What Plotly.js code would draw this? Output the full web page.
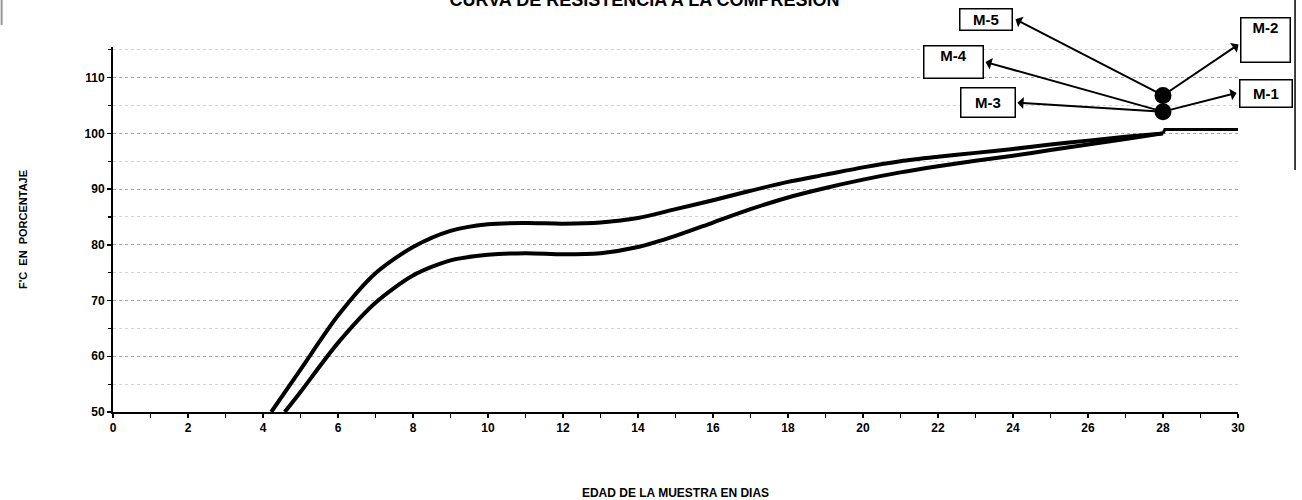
<!DOCTYPE html>
<html>
<head>
<meta charset="utf-8">
<script src="https://cdn.plot.ly/plotly-3.0.1.min.js"></script>
<style>html,body{margin:0;padding:0;background:#fff;}#chart{width:1302px;height:500px;}</style>
</head>
<body>
<div id="chart"></div>
<script>
// ---- data ----
const diasCurvaSup = [4.22, 5, 6, 7, 8, 9, 10, 11, 12, 13, 14, 15, 16, 17, 18, 19, 20, 21, 22, 23, 24, 25, 26, 27, 28];
const fcCurvaSup   = [50, 57.6, 67.3, 74.9, 79.6, 82.5, 83.7, 83.9, 83.8, 84.0, 84.8, 86.4, 88.0, 89.7, 91.3, 92.6, 93.9, 95.0, 95.8, 96.5, 97.2, 98.0, 98.7, 99.4, 100.0];
const diasCurvaInf = [4.58, 5, 6, 7, 8, 9, 10, 11, 12, 13, 14, 15, 16, 17, 18, 19, 20, 21, 22, 23, 24, 25, 26, 27, 28];
const fcCurvaInf   = [50, 53.6, 62.4, 69.6, 74.5, 77.2, 78.2, 78.5, 78.3, 78.5, 79.6, 81.6, 84.0, 86.4, 88.5, 90.2, 91.7, 93.0, 94.1, 95.1, 96.0, 97.0, 98.0, 99.0, 100.0];
const diasTramoFinal = [28, 28.05, 30];
const fcTramoFinal   = [100.0, 100.7, 100.7];
const diasMuestras = [28, 28];
const fcMuestras   = [106.8, 103.9];
const etiquetas    = ["M-5", "M-2", "M-4", "M-3", "M-1"];
const etiquetaPunto = [0, 0, 1, 1, 1]; // which sample point each label's arrow starts from
const xTicks = [0, 2, 4, 6, 8, 10, 12, 14, 16, 18, 20, 22, 24, 26, 28, 30];
const yTicks = [50, 60, 70, 80, 90, 100, 110];

// ---- presentation ----
const FONT = "Liberation Sans, Arial, sans-serif";
const lineStyle = {color: "#000", width: 4, shape: "spline", smoothing: 0.8};

const traces = [
  {x: diasCurvaSup, y: fcCurvaSup, mode: "lines", line: lineStyle, hoverinfo: "skip", showlegend: false},
  {x: diasCurvaInf, y: fcCurvaInf, mode: "lines", line: lineStyle, hoverinfo: "skip", showlegend: false},
  {x: diasTramoFinal, y: fcTramoFinal, mode: "lines", line: {color: "#000", width: 3}, hoverinfo: "skip", showlegend: false},
  {x: diasMuestras, y: fcMuestras, mode: "markers", marker: {color: "#000", size: 17}, showlegend: false}
];

// label boxes: pixel offset of box centre from its sample point, box size
const boxDx = [-177, 102, -210, -175, 103];
const boxDy = [-76, -55, -50, -9, -18];
const boxW  = [51, 48, 58, 53, 51];
const boxH  = [20, 43, 31, 28, 26];
const boxVal = ["middle", "top", "top", "middle", "middle"];
// arrow heads: pixel offset of the head from the sample point
const headDx = [-149, 77, -179, -147, 75];
const headDy = [-77, -52, -50, -9, -19];

const annotations = [];
etiquetas.forEach((t, i) => {
  const px = diasMuestras[etiquetaPunto[i]], py = fcMuestras[etiquetaPunto[i]];
  annotations.push({
    x: px, y: py, xref: "x", yref: "y",
    ax: headDx[i], ay: headDy[i], axref: "pixel", ayref: "pixel",
    text: "", showarrow: true, arrowside: "start", arrowhead: 4, arrowsize: 1.7, arrowwidth: 2, arrowcolor: "#000",
    standoff: 0, startstandoff: 0
  });
  annotations.push({
    x: px, y: py, xref: "x", yref: "y",
    xshift: boxDx[i], yshift: -boxDy[i], showarrow: false,
    text: t, font: {family: FONT, size: 15, color: "#000", weight: "bold"},
    bordercolor: "#000", borderwidth: 1.5, borderpad: 0, bgcolor: "#fff",
    width: boxW[i], height: boxH[i], valign: boxVal[i]
  });
});

const layout = {
  width: 1302, height: 500,
  margin: {l: 113, r: 64, t: 47, b: 88},
  paper_bgcolor: "#fff", plot_bgcolor: "#fff",
  font: {family: FONT, color: "#000"},
  title: {
    text: "CURVA DE RESISTENCIA A LA COMPRESION",
    font: {family: FONT, size: 18, color: "#000", weight: "bold"},
    x: 0.495, xref: "container", xanchor: "center",
    y: 1, yref: "container", yanchor: "middle"
  },
  xaxis: {
    range: [0, 30], tickvals: xTicks, ticktext: xTicks.map(String),
    showline: true, linecolor: "#000", linewidth: 2, mirror: false,
    ticks: "outside", ticklen: 4, tickwidth: 1.5, tickcolor: "#000",
    minor: {dtick: 1, tick0: 0, ticks: "outside", ticklen: 4, tickwidth: 1.2, tickcolor: "#000", showgrid: false},
    showgrid: false, zeroline: false,
    tickfont: {family: FONT, size: 12, color: "#000", weight: "bold"},
    title: {text: "EDAD DE LA MUESTRA EN DIAS", font: {family: FONT, size: 12, color: "#000", weight: "bold"}, standoff: 56}
  },
  yaxis: {
    range: [50, 115.5], tickvals: yTicks, ticktext: yTicks.map(String),
    showline: true, linecolor: "#000", linewidth: 2,
    ticks: "outside", ticklen: 4, tickwidth: 1.5, tickcolor: "#000",
    showgrid: true, gridcolor: "#a8a8a8", gridwidth: 1, griddash: "dot",
    minor: {dtick: 5, tick0: 50, ticks: "outside", ticklen: 3, tickwidth: 1.2, tickcolor: "#000", showgrid: true, gridcolor: "#d4d4d4", griddash: "dot"},
    zeroline: false,
    tickfont: {family: FONT, size: 12, color: "#000", weight: "bold"},
    title: {text: "F'C\u00a0\u00a0EN\u00a0\u00a0PORCENTAJE", font: {family: FONT, size: 11, color: "#000", weight: "bold"}, standoff: 55}
  },
  annotations: annotations,
  shapes: [
    {type: "line", xref: "paper", yref: "paper", x0: 1.0507, x1: 1.0507, y0: 0.663, y1: 1.13, line: {color: "#000", width: 1.5}},
    {type: "line", xref: "paper", yref: "paper", x0: -0.099, x1: -0.099, y0: 1.06, y1: 1.13, line: {color: "#999", width: 2}}
  ],
  showlegend: false
};

Plotly.newPlot("chart", traces, layout, {displayModeBar: false, staticPlot: true});
</script>
</body>
</html>
